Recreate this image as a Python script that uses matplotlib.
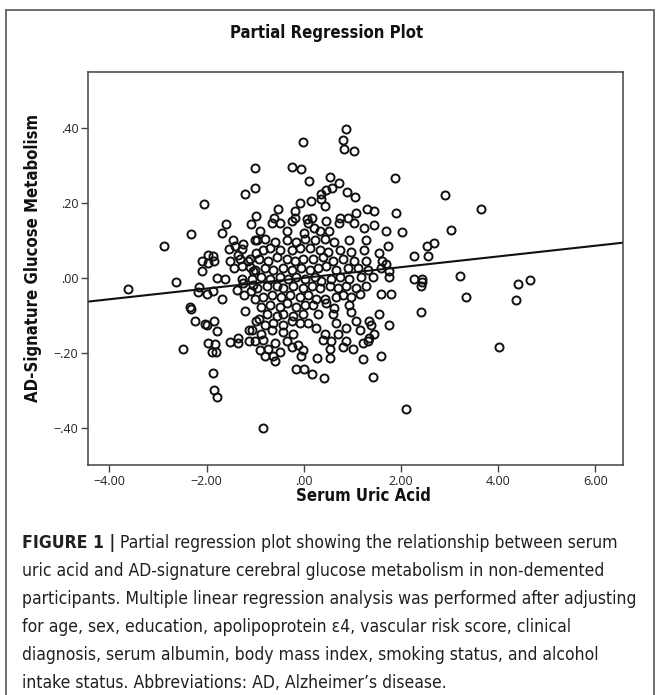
import matplotlib
matplotlib.use("Agg")
import matplotlib.pyplot as plt
from matplotlib.patches import Rectangle
from matplotlib import font_manager as fm

# residuals, (serum uric acid, AD-signature glucose metabolism)
uric_acid = [
    # upper left
    -1.01, -1.01, -1.21, -2.05, -0.98, -1.60, -1.08, -2.32, -1.69,
    # upper middle
    0.86, -0.01, 0.80, 0.82, 1.04, -0.25, -0.05, 1.88, 0.11, 0.53, 0.72, 0.59, 0.46, 0.36, 0.36, 0.43,
    0.89, 1.06, -0.07, 0.14, -0.53, -0.17, 1.08, 1.30, 1.45, 1.90, -0.61, -0.18, 0.07, 0.16, 0.74, 0.91,
    -0.66, -0.48, -0.25, 0.09, 0.45, 1.04, 1.45, 0.72, -0.90, -0.35, 0.00, 0.22, 0.33, 0.52, 1.25, 1.70, 2.02,
    # right
    2.90, 3.65, 3.03, 2.54, 2.68, 2.56, 2.43, 2.41, 2.44, 3.22, 3.34, 2.42, 4.40, 4.66, 4.37, 4.01,
    # left
    -3.62, -2.62, -2.88, -1.45, -1.25, -1.54, -1.42, -1.28, -1.36, -1.01, -0.98, -1.52, -1.31, -1.15,
    -1.43, -1.28, -1.11, -1.04, -2.10, -1.98, -1.86, -1.84, -1.98, -2.09, -1.79, -1.62, -1.28, -1.25,
    -1.04, -2.15, -2.18, -2.00, -1.86, -1.38, -1.23, -1.08, -1.68, -1.01, -2.35, -2.32, -1.21, -2.24,
    -2.03, -2.00, -1.84, -1.79, -0.98, -1.13, -2.49, -1.98, -1.83, -1.88, -1.81, -1.52, -1.35, -1.36,
    -1.13, -1.01,
    # lower
    -1.86, -1.84, -1.79, -0.83, -0.63, -0.59, -0.15, 0.00, 0.17, 0.41, -0.05, 0.27, 0.53, 1.21, 1.59,
    1.43, 2.10, -0.80,
    # centre
    -0.97, -0.80, -0.59, -0.35, -0.15, 0.02, 0.23, 0.43, 0.63, 0.94, 1.28, 1.73,
    -0.83, -0.69, -0.49, -0.25, -0.08, 0.12, 0.33, 0.50, 0.74, 0.98, 1.25, 1.55, 2.27,
    -1.10, -0.93, -0.73, -0.56, -0.35, -0.18, -0.01, 0.19, 0.40, 0.60, 0.80, 1.04, 1.28, 1.62, 1.69,
    -1.00, -0.80, -0.63, -0.42, -0.25, -0.05, 0.12, 0.29, 0.46, 0.67, 0.91, 1.11, 1.32, 1.59, 1.76,
    -1.07, -0.87, -0.69, -0.49, -0.32, -0.15, 0.02, 0.23, 0.36, 0.57, 0.74, 0.94, 1.18, 1.42, 1.76, 2.27,
    -0.97, -0.76, -0.56, -0.42, -0.22, -0.01, 0.16, 0.33, 0.53, 0.70, 0.87, 1.08, 1.28, 1.59, 1.79,
    -0.83, -0.66, -0.46, -0.29, -0.08, 0.09, 0.26, 0.43, 0.67, 0.80, 0.98, 1.15,
    -0.87, -0.69, -0.49, -0.35, -0.15, 0.02, 0.19, 0.46, 0.94, 0.63,
    -0.93, -0.76, -0.56, -0.42, -0.22, -0.01, 0.29, 0.60, 0.98, 1.55,
    -0.80, -0.63, -0.42, -0.25, -0.08, 0.09, 0.67, 0.87, 1.08, 1.35, 1.38,
    -1.07, -0.87, -0.66, -0.42, -0.22, 0.26, 0.43, 0.70, 1.15, 1.45, 1.76,
    -0.83, -0.59, -0.35, -0.12, 0.40, 0.57, 0.87, 1.32, 1.35,
    -0.90, -0.73, -0.49, -0.25, -0.01, 0.53, 0.80, 1.01, 1.21,
]
glucose = [
    0.294, 0.239, 0.224, 0.196, 0.166, 0.144, 0.144, 0.118, 0.120,
    0.399, 0.363, 0.368, 0.343, 0.339, 0.296, 0.291, 0.267, 0.260, 0.270, 0.254, 0.240, 0.234, 0.223, 0.211, 0.193,
    0.230, 0.216, 0.201, 0.205, 0.183, 0.178, 0.174, 0.183, 0.178, 0.174, 0.159, 0.159, 0.156, 0.159, 0.159, 0.159,
    0.147, 0.147, 0.152, 0.147, 0.152, 0.147, 0.142, 0.146, 0.124, 0.124, 0.121, 0.134, 0.124, 0.126, 0.132, 0.126, 0.123,
    0.222, 0.185, 0.127, 0.085, 0.093, 0.058, -0.003, -0.023, -0.012, 0.005, -0.050, -0.091, -0.016, -0.005, -0.059, -0.186,
    -0.030, -0.011, 0.085, 0.100, 0.090, 0.076, 0.085, 0.076, 0.061, 0.100, 0.066, 0.046, 0.051, 0.046,
    0.026, 0.031, 0.028, 0.017, 0.046, 0.061, 0.058, 0.044, 0.041, 0.017, -0.001, -0.003, -0.003, -0.013,
    -0.018, -0.024, -0.037, -0.042, -0.034, -0.032, -0.047, -0.034, -0.057, -0.057, -0.079, -0.083, -0.089, -0.116,
    -0.123, -0.126, -0.116, -0.143, -0.116, -0.140, -0.191, -0.174, -0.177, -0.199, -0.199, -0.171, -0.174, -0.160,
    -0.168, -0.168,
    -0.253, -0.299, -0.319, -0.400, -0.209, -0.221, -0.243, -0.243, -0.258, -0.268, -0.209, -0.214, -0.214, -0.217, -0.209,
    -0.266, -0.351, -0.209,
    0.100, 0.105, 0.095, 0.100, 0.095, 0.105, 0.100, 0.105, 0.095, 0.100, 0.100, 0.085,
    0.075, 0.080, 0.075, 0.075, 0.080, 0.080, 0.075, 0.070, 0.075, 0.070, 0.075, 0.066, 0.058,
    0.051, 0.051, 0.046, 0.056, 0.051, 0.046, 0.051, 0.051, 0.056, 0.046, 0.051, 0.046, 0.046, 0.046, 0.036,
    0.021, 0.026, 0.021, 0.026, 0.021, 0.026, 0.021, 0.026, 0.031, 0.021, 0.026, 0.026, 0.021, 0.026, 0.017,
    -0.003, 0.002, -0.003, 0.002, -0.003, 0.002, -0.003, 0.002, -0.008, -0.003, 0.002, -0.003, 0.002, 0.002, 0.002, -0.003,
    -0.028, -0.023, -0.023, -0.028, -0.023, -0.028, -0.023, -0.028, -0.023, -0.028, -0.023, -0.028, -0.023, -0.042, -0.042,
    -0.052, -0.047, -0.052, -0.047, -0.052, -0.047, -0.057, -0.057, -0.052, -0.047, -0.052, -0.042,
    -0.077, -0.072, -0.077, -0.067, -0.077, -0.072, -0.072, -0.067, -0.072, -0.081,
    -0.111, -0.096, -0.101, -0.096, -0.101, -0.096, -0.096, -0.096, -0.091, -0.096,
    -0.126, -0.121, -0.126, -0.116, -0.121, -0.121, -0.121, -0.135, -0.116, -0.116, -0.126,
    -0.140, -0.150, -0.140, -0.145, -0.150, -0.135, -0.150, -0.150, -0.140, -0.150, -0.126,
    -0.165, -0.175, -0.170, -0.179, -0.165, -0.170, -0.170, -0.170, -0.160,
    -0.194, -0.189, -0.199, -0.184, -0.194, -0.189, -0.184, -0.189, -0.175,
]

fit_slope = 0.0143
fit_intercept = 0.0

x_ticks = [-4, -2, 0, 2, 4, 6]
x_ticklabels = ["\u22124.00", "\u22122.00", ".00", "2.00", "4.00", "6.00"]
y_ticks = [-0.4, -0.2, 0.0, 0.2, 0.4]
y_ticklabels = ["\u2212.40", "\u2212.20", ".00", ".20", ".40"]

caption_lines = [
    "Partial regression plot showing the relationship between serum",
    "uric acid and AD-signature cerebral glucose metabolism in non-demented",
    "participants. Multiple linear regression analysis was performed after adjusting",
    "for age, sex, education, apolipoprotein \u03b54, vascular risk score, clinical",
    "diagnosis, serum albumin, body mass index, smoking status, and alcohol",
    "intake status. Abbreviations: AD, Alzheimer\u2019s disease.",
]


def narrow_font(weight):
    # condensed DejaVu if it is installed, Roboto otherwise
    path = fm.findfont(fm.FontProperties(family="DejaVu Sans", stretch="condensed", weight=weight))
    if "Condensed" in path:
        return fm.FontProperties(fname=path)
    return fm.FontProperties(family="Roboto", weight=weight)


bold_fp = narrow_font("bold")
reg_fp = narrow_font("normal")

W, H = 659, 695
fig = plt.figure(figsize=(W / 100, H / 100), dpi=100)
renderer = fig.canvas.get_renderer()


def fit_width(t, target, vertical=False):
    bb = t.get_window_extent(renderer)
    w = bb.height if vertical else bb.width
    t.set_fontsize(t.get_fontsize() * target / w)


# outer frame around chart + caption
fig.add_artist(Rectangle((6 / W, -0.01), 648 / W, 1 - 10 / H + 0.01, transform=fig.transFigure,
                         fill=False, ec="#555555", lw=1.2))

ax = fig.add_axes([88 / W, 1 - 465 / H, 535 / W, 393 / H])
ax.plot(uric_acid, glucose, "o", ms=5.8, mfc="none", mec="#111111", mew=1.4, ls="none")
ax.axline((0, fit_intercept), slope=fit_slope, color="#111111", lw=1.5)

ax.set_xlim(-4.44, 6.57)
ax.set_ylim(-0.50, 0.55)
ax.set_xticks(x_ticks)
ax.set_xticklabels(x_ticklabels, family=["Open Sans", "DejaVu Sans"], fontsize=9, color="#222222")
ax.set_yticks(y_ticks)
ax.set_yticklabels(y_ticklabels, family=["Open Sans", "DejaVu Sans"], fontsize=9, color="#222222")
ax.tick_params(direction="out", length=5, width=1, color="#444444", pad=2)
for s in ax.spines.values():
    s.set_color("#444444")
    s.set_linewidth(1.1)

title = fig.text(327 / W, 1 - 33 / H, "Partial Regression Plot", ha="center", va="center",
                 fontproperties=bold_fp, fontsize=12, color="#111111")
fit_width(title, 193)
lab_size = title.get_fontsize()
fig.text(363 / W, 1 - 496 / H, "Serum Uric Acid", ha="center", va="center",
         fontproperties=bold_fp, fontsize=lab_size, color="#111111")
fig.text(33 / W, 1 - 258 / H, "AD-Signature Glucose Metabolism", ha="center", va="center",
         rotation=90, fontproperties=bold_fp, fontsize=lab_size, color="#111111")

# caption: size set so the longest line spans the same width as in the figure
cap_x = 22 / W
cap_texts = []
for i, line in enumerate(caption_lines):
    t = fig.text(cap_x, 1 - (543 + 28 * i) / H, line, ha="left", va="center",
                 fontproperties=reg_fp, fontsize=12, color="#231f20")
    cap_texts.append(t)
w3 = cap_texts[2].get_window_extent(renderer).width
cap_size = 12 * 615 / w3
for t in cap_texts:
    t.set_fontsize(cap_size)
head = fig.text(cap_x, 1 - 543 / H, "FIGURE 1 |", ha="left", va="center",
                fontproperties=bold_fp, fontsize=cap_size, color="#231f20")
bb = head.get_window_extent(renderer)
cap_texts[0].set_x((bb.x1 + 5) / W)

fig.savefig("out.png", dpi=100)
